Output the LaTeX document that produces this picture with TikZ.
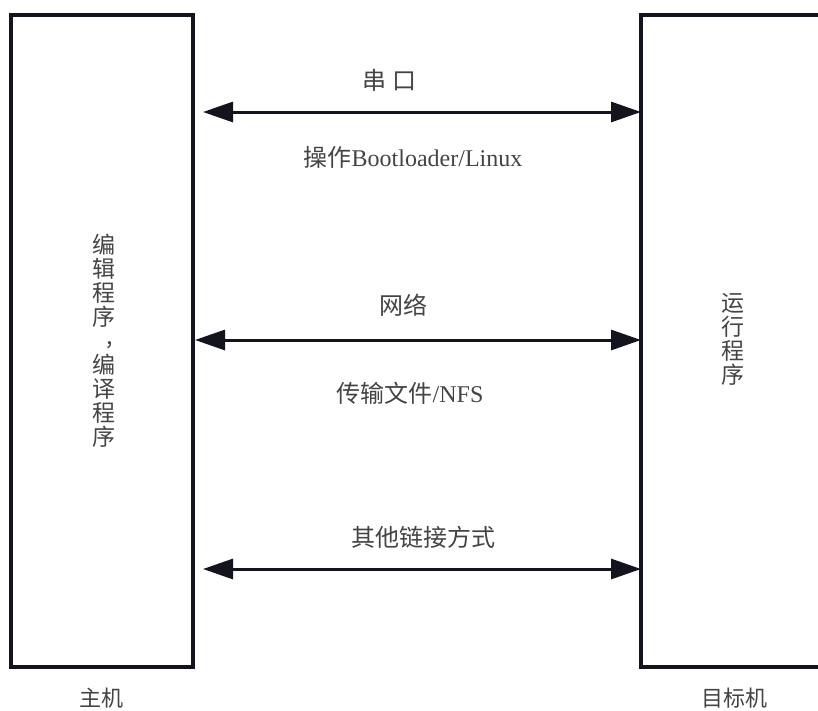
\documentclass[tikz,border=0pt]{standalone}
\usepackage{fontspec}
\setmainfont{Liberation Serif}
\newfontfamily\cjk{Noto Sans CJK SC}
\usetikzlibrary{arrows.meta}
\definecolor{linec}{HTML}{14141E}
\definecolor{textc}{HTML}{444444}
\newcommand\myvc[1]{\hbox to 24pt{\hss#1\hss}}
\newcommand\myvstack[1]{\vbox{\baselineskip=24pt\lineskiplimit=-100pt\lineskip=0pt\relax#1}}
\tikzset{
  box/.style={draw=linec, line width=3.6pt, outer sep=0pt, inner sep=0pt, anchor=north west},
  link/.style={draw=linec, line width=3pt, {Triangle[length=30pt,width=20pt]}-{Triangle[length=30pt,width=20pt]}, shorten <=0pt, shorten >=0pt},
  lbl/.style={text=textc, inner sep=0pt, font=\fontsize{24}{28}\selectfont},
  vlbl/.style={text=textc, inner sep=0pt, font=\cjk\fontsize{23}{24}\selectfont},
  captext/.style={text=textc, inner sep=0pt, font=\cjk\fontsize{22}{26}\selectfont}
}
\begin{document}
\begin{tikzpicture}[x=1pt,y=-1pt]
\useasboundingbox (0,0) rectangle (818,710);
\fill[white] (0,0) rectangle (818,710);
\clip (0,0) rectangle (818,710);
\node[box, minimum width=182pt, minimum height=652pt] (L) at (11,15) {};
\node[box, minimum width=220pt, minimum height=652pt] (R) at (641,15) {};
% connector endpoints
\coordinate (a1) at (203,112);
\coordinate (b1) at (639,112);
\coordinate (a2) at (195,340);
\coordinate (b2) at (639,340);
\coordinate (a3) at (203,569);
\coordinate (b3) at (638,569);
\draw[link] (a1 -| L.east) ++(10pt,0) coordinate (s1) -- (b1 -| R.west);
\draw[link] (a2 -| L.east) ++(2pt,0) coordinate (s2) -- (b2 -| R.west);
\draw[link] (a3 -| L.east) ++(10pt,0) coordinate (s3) -- (b3 -| R.west);
% labels
\node[lbl] (t1) at (389,80) {\cjk 串\hspace{6pt}口};
\node[lbl] (t2) at (413,157) {{\cjk 操作}Bootloader/Linux};
\node[lbl] (t3) at (403,305) {\cjk 网络};
\node[lbl] (t4) at (410,393) {{\cjk 传输文件}/NFS};
\node[lbl] (t5) at (423,537) {\cjk 其他链接方式};
\node[vlbl] (lt) at (104,341) {\myvstack{\myvc{编}\myvc{辑}\myvc{程}\myvc{序}\myvc{\hspace*{12pt}\raise5pt\hbox{,}}\myvc{编}\myvc{译}\myvc{程}\myvc{序}}};
\node[vlbl] (rt) at (733,339) {\myvstack{\myvc{运}\myvc{行}\myvc{程}\myvc{序}}};
\node[captext] (c1) at (101,698) {主机};
\node[captext] (c2) at (734,698) {目标机};
\end{tikzpicture}
\end{document}
